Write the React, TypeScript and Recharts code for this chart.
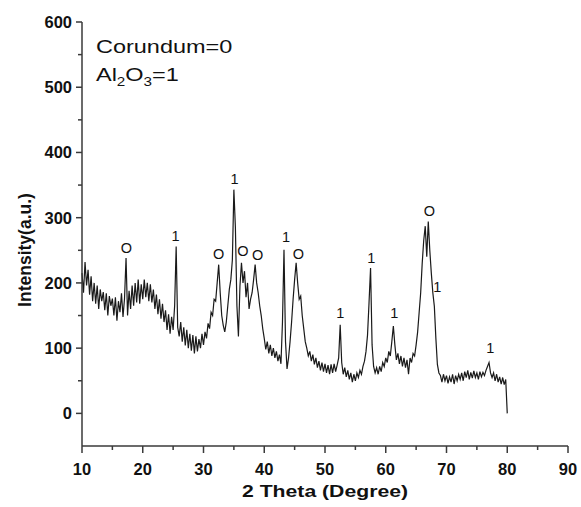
import { ComposedChart, Line, Scatter, XAxis, YAxis, ReferenceDot } from "recharts"

// XRD scan, every 0.25 degree from 10 to 80
const scanStart = 10
const scanStep = 0.25
const intensity = [
  215, 185, 232, 196, 220, 182, 210, 172, 200, 168, 196, 160, 190, 172, 186, 158, 184, 150, 180, 165,
  176, 150, 178, 142, 172, 155, 184, 148, 176, 238, 150, 188, 160, 196, 165, 200, 170, 205, 168, 198,
  175, 205, 178, 200, 172, 198, 170, 190, 160, 182, 152, 175, 145, 168, 140, 158, 128, 152, 122, 148,
  128, 165, 256, 132, 118, 140, 110, 132, 104, 128, 100, 122, 96, 120, 92, 118, 95, 114, 100, 122,
  105, 125, 115, 138, 130, 155, 150, 175, 172, 200, 228, 185, 150, 135, 125, 140, 165, 190, 205, 235,
  343, 285, 165, 118, 195, 231, 200, 218, 178, 200, 160, 175, 185, 205, 228, 200, 185, 165, 150, 130,
  115, 98, 110, 92, 105, 88, 100, 85, 95, 80, 90, 76, 140, 251, 110, 68, 85, 110, 140, 175,
  205, 231, 200, 175, 180, 150, 130, 110, 100, 88, 95, 80, 90, 75, 85, 70, 80, 66, 78, 64,
  76, 62, 74, 60, 75, 62, 76, 64, 74, 85, 136, 78, 60, 70, 56, 66, 52, 62, 48, 60,
  50, 62, 55, 66, 60, 72, 80, 95, 120, 170, 223, 105, 72, 62, 70, 60, 72, 64, 78, 72,
  85, 78, 95, 88, 110, 134, 105, 82, 92, 76, 88, 72, 85, 70, 82, 60, 85, 78, 92, 88,
  105, 125, 155, 185, 230, 265, 287, 240, 294, 250, 215, 185, 164, 115, 75, 62, 58, 48, 60, 50,
  58, 46, 56, 48, 60, 45, 58, 50, 60, 52, 62, 50, 64, 55, 66, 52, 63, 54, 65, 55,
  62, 52, 64, 56, 63, 58, 66, 72, 78, 62, 55, 62, 50, 60, 48, 56, 45, 55, 44, 52,
  0,
]

// peak markers: O = corundum, 1 = Al2O3
const peakTheta = [17.3, 25.4, 32.5, 35.1, 36.5, 38.9, 43.6, 45.6, 52.5, 57.6, 61.4, 67.2, 68.5, 77.2]
const peakHeight = [254, 272, 245, 359, 249, 243, 270, 245, 154, 238, 154, 311, 194, 100]
const peakPhase = ["O", "1", "O", "1", "O", "O", "1", "O", "1", "1", "1", "O", "1", "1"]

const xTicks = [10, 15, 20, 25, 30, 35, 40, 45, 50, 55, 60, 65, 70, 75, 80, 85, 90]
const yTicks = [0, 50, 100, 150, 200, 250, 300, 350, 400, 450, 500, 550, 600]

const noteTheta = 12.3
const noteHeight = [552, 509]

const scan = intensity.map((v, i) => ({ x: scanStart + i * scanStep, y: v }))
const peaks = peakTheta.map((t, i) => ({ x: t, y: peakHeight[i], phase: peakPhase[i] }))

const font = "'Liberation Sans', Arial, sans-serif"
const axisColor = "#3a3a3a"

function XTick({ x, y, payload }: any) {
  const major = payload.value % 10 === 0
  return (
    <g>
      <line x1={x} y1={y} x2={x} y2={y + (major ? 7 : 4)} stroke={axisColor} strokeWidth={1.5} />
      {major && (
        <text x={x} y={y + 29} textAnchor="middle" fontFamily={font} fontWeight="bold" fontSize={16.5} fill="#111">
          {payload.value}
        </text>
      )}
    </g>
  )
}

function YTick({ x, y, payload }: any) {
  const major = payload.value % 100 === 0
  return (
    <g>
      <line x1={x} y1={y} x2={x - (major ? 6 : 4)} y2={y} stroke={axisColor} strokeWidth={1.5} />
      {major && (
        <text x={x - 10} y={y + 6} textAnchor="end" fontFamily={font} fontWeight="bold" fontSize={16.5} fill="#111">
          {payload.value}
        </text>
      )}
    </g>
  )
}

function PeakMark({ cx, cy, payload }: any) {
  return (
    <text x={cx} y={cy} textAnchor="middle" dominantBaseline="central" fontFamily={font} fontSize={14.5} fill="#111">
      {payload.phase}
    </text>
  )
}

export default function App() {
  return (
    <div style={{ width: 581, height: 507, background: "#fff" }}>
      <style>{"body{margin:0}"}</style>
      <ComposedChart width={581} height={507} data={scan} margin={{ top: 22, right: 13, bottom: 0, left: 0 }}>
        <XAxis
          type="number"
          dataKey="x"
          domain={[10, 90]}
          ticks={xTicks}
          interval={0}
          height={61}
          tickSize={0}
          tickMargin={0}
          tick={<XTick />}
          axisLine={{ stroke: axisColor, strokeWidth: 1.5 }}
          label={{
            content: ({ viewBox }: any) => (
              <text
                x={viewBox.x + viewBox.width / 2}
                y={viewBox.y + 51}
                textAnchor="middle"
                fontFamily={font}
                fontWeight="bold"
                fontSize={17}
                fill="#111"
                textLength={166}
                lengthAdjust="spacingAndGlyphs"
              >
                2 Theta (Degree)
              </text>
            ),
          }}
        />
        <YAxis
          type="number"
          domain={[-50, 600]}
          ticks={yTicks}
          interval={0}
          width={82}
          tickSize={0}
          tickMargin={0}
          tick={<YTick />}
          axisLine={{ stroke: axisColor, strokeWidth: 1.5 }}
          label={{
            content: ({ viewBox }: any) => (
              <text
                transform={`translate(${viewBox.x + 25},${viewBox.y + viewBox.height / 2 + 16}) rotate(-90)`}
                textAnchor="middle"
                dominantBaseline="central"
                fontFamily={font}
                fontWeight="bold"
                fontSize={17.5}
                fill="#111"
              >
                Intensity(a.u.)
              </text>
            ),
          }}
        />
        <Line type="linear" dataKey="y" stroke="#1a1a1a" strokeWidth={1.2} dot={false} isAnimationActive={false} />
        <Scatter data={peaks} dataKey="y" shape={<PeakMark />} isAnimationActive={false} />
        <ReferenceDot
          x={noteTheta}
          y={noteHeight[0]}
          r={0}
          ifOverflow="visible"
          shape={(p: any) => (
            <text transform={`translate(${p.cx},${p.cy}) scale(1.27,1)`} fontFamily={font} fontSize={18.5} fill="#111">
              Corundum=0
            </text>
          )}
        />
        <ReferenceDot
          x={noteTheta}
          y={noteHeight[1]}
          r={0}
          ifOverflow="visible"
          shape={(p: any) => (
            <text transform={`translate(${p.cx},${p.cy}) scale(1.27,1)`} fontFamily={font} fontSize={18.5} fill="#111">
              Al<tspan fontSize={12} dy={5}>2</tspan>
              <tspan dy={-5}>O</tspan>
              <tspan fontSize={12} dy={5}>3</tspan>
              <tspan dy={-5}>=1</tspan>
            </text>
          )}
        />
      </ComposedChart>
    </div>
  )
}
